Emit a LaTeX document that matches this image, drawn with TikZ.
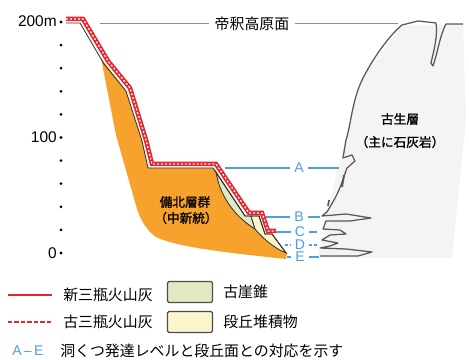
\documentclass[tikz,border=0pt]{standalone}
\usepackage{fontspec}
\setmainfont{Liberation Sans}
\newfontfamily\jp{Noto Sans CJK JP}
\newfontfamily\jpb{Noto Sans CJK JP}[FakeBold=1.2]
\usetikzlibrary{positioning}

\definecolor{ashred}{HTML}{E8242C}
\definecolor{lvlblue}{HTML}{4C9FE0}
\definecolor{miocene}{HTML}{F6A22C}
\definecolor{talus}{HTML}{E2E8C2}
\definecolor{terrace}{HTML}{FBF5CB}
\definecolor{rock}{HTML}{F6F3F5}

\tikzset{
  jtext/.style={font=\jp\fontsize{10.6}{12}\selectfont, inner sep=0pt},
  unit/.style={font=\jpb\fontsize{9}{11}\selectfont, inner sep=0pt, align=center},
  tick/.style={font=\fontsize{11}{11}\selectfont, inner sep=0pt, anchor=east},
  lvl/.style={lvlblue, line width=0.8pt},
  lvltag/.style={text=lvlblue, font=\fontsize{10}{10}\selectfont, inner sep=2.6pt},
  newash/.style={ashred, line width=3.2pt, line join=miter},
  oldash/.style={white, line width=0.9pt, dash pattern=on 1.4pt off 1.4pt},
  ground/.style={draw=black!80, line width=0.6pt},
  cliff/.style={draw=black!65, line width=0.9pt, line join=round},
  legbox/.style={draw=black!70, line width=0.9pt, rounded corners=1pt,
    minimum width=1.12cm, minimum height=0.52cm, inner sep=0pt}
}

\begin{document}
\begin{tikzpicture}[x=0.025cm, y=-0.025cm]
\useasboundingbox (0,0) rectangle (469,360);

% height scale
\foreach \k in {0,...,10}
  \fill (61,{22+23.1*\k}) circle (1.1pt);
\node (h200) [tick] at (57,21) {200m};
\node (h100) [tick] at (57,137.5) {100};
\node (h0) [tick] at (57,253) {0};

% limestone cliff
\fill[rock] (402,25) -- (463,24) -- (466,120) -- (452,258) -- (318,258)
  -- (327,212) -- (345,140) -- (362,78) -- cycle;
\draw[cliff] (463,24) -- (446,24) .. controls (440,35) and (437,55) .. (433,66)
  -- (431,63) .. controls (434,50) and (438,35) .. (436,23) -- (418,21) -- (402,25)
  .. controls (390,35) and (375,55) .. (363,78)
  .. controls (352,100) and (351,125) .. (346,140) -- (343,158) -- (352,155)
  -- (355,161) -- (347,168) -- (341,185)
  .. controls (336,198) and (331,205) .. (327,212) -- (322,216) -- (346,214)
  -- (371,218) -- (350,221) -- (326,221) -- (323,229) -- (340,230) -- (346,234)
  -- (330,235) -- (322,240) -- (338,243) -- (330,246) -- (320,248) -- (346,249)
  -- (372,252) -- (358,256) -- (320,256);
\draw[cliff, line width=1.4pt] (344,175) -- (342,187);
\draw[cliff, line width=1.2pt] (329,200) -- (328,206);
\node (palaeo) [unit] at (400,119) {古生層};
\node (lime) [unit] at (400,142) {（主に石灰岩）};

% Bihoku group and the slope deposits
\fill[miocene] (101,58) -- (126,91) -- (142,141) -- (148,168) -- (213,168)
  -- (245,216) -- (259,216) -- (265,234) -- (272,234) -- (287,253) -- (286,259)
  .. controls (240,254) and (178,248) .. (156,237)
  .. controls (146,230) and (141,220) .. (137,209) -- (116,135) -- cycle;
\filldraw[ground, fill=talus] (216,172) -- (245,216) -- (251,216) -- (255,229)
  .. controls (234,216) and (220,196) .. cycle;
\filldraw[ground, fill=terrace] (251,216) -- (259,216) -- (265,234) -- (272,234)
  -- (286,253) .. controls (276,249) and (264,240) .. (255,229) -- cycle;
\node (bihoku) [unit] at (185,202) {備北層群};
\node (miocn) [unit] at (186,218) {（中新統）};

% ground surface with the two ash layers on top
\draw[ground] (66,23) -- (80,23) -- (104,64) -- (126,91) -- (142,141) -- (148,168)
  -- (213,168) -- (245,216) -- (259,216) -- (265,234) -- (272,234) -- (286,253);
\draw[newash] (66,19) -- (83,19) -- (108,61) -- (130,88) -- (146,140) -- (152,164)
  -- (216,164) -- (249,213) -- (262,213) -- (268,231) -- (276,231);
\draw[oldash] (66,19) -- (83,19) -- (108,61) -- (130,88) -- (146,140) -- (152,164)
  -- (216,164) -- (249,213) -- (262,213) -- (268,231) -- (276,231);

% plateau surface
\node (plateau) [jtext, inner sep=4pt] at (252,23.5) {帝釈高原面};
\coordinate (pl-w) at (100,23.5);
\coordinate (pl-e) at (398,23.5);
\draw[black!45, line width=0.9pt] (pl-w) -- (plateau) -- (pl-e);

% cave levels
\node (A) [lvltag] at (299,168) {A};
\node (B) [lvltag] at (299,217) {B};
\node (C) [lvltag] at (300,232) {C};
\node (D) [lvltag] at (300,245) {D};
\node (E) [lvltag] at (300,257) {E};
\coordinate (a-w) at (225,168);  \coordinate (a-e) at (339,168);
\coordinate (b-w) at (266,217);  \coordinate (b-e) at (320,217);
\coordinate (c-w) at (276,232);  \coordinate (c-e) at (317,232);
\coordinate (d-w) at (285,245);  \coordinate (d-e) at (318,245);
\coordinate (e-w) at (287,257);  \coordinate (e-e) at (319,257);
\draw[lvl] (a-w) -- (A) -- (a-e);
\draw[lvl] (b-w) -- (B) -- (b-e);
\draw[lvl] (c-w) -- (C) -- (c-e);
\draw[lvl, dash pattern=on 2pt off 1.5pt] (d-w) -- (D) -- (d-e);
\draw[lvl] (e-w) -- (E) -- (e-e);

% legend
\coordinate (k1-w) at (8,295);  \coordinate (k1-e) at (52,295);
\coordinate (k2-w) at (8,322);  \coordinate (k2-e) at (52,322);
\draw[ashred, line width=1.1pt] (k1-w) -- (k1-e);
\draw[ashred, line width=1.5pt, dash pattern=on 3pt off 1.6pt] (k2-w) -- (k2-e);
\node (newtxt) [jtext, anchor=west] at (63,295) {新三瓶火山灰};
\node (oldtxt) [jtext, anchor=west] at (63,322) {古三瓶火山灰};
\node (talusbox) [legbox, fill=talus] at (190,292) {};
\node (terrbox) [legbox, fill=terrace] at (190,322) {};
\node (talustxt) [jtext, right=0.25cm of talusbox] {古崖錐};
\node (terrtxt) [jtext, right=0.25cm of terrbox] {段丘堆積物};
\node (aetag) [text=lvlblue, font=\fontsize{10}{10}\selectfont, inner sep=0pt,
  anchor=west] at (12,351) {A\,–\,E};
\node (aetxt) [jtext, anchor=west] at (60,351) {洞くつ発達レベルと段丘面との対応を示す};
\end{tikzpicture}
\end{document}
